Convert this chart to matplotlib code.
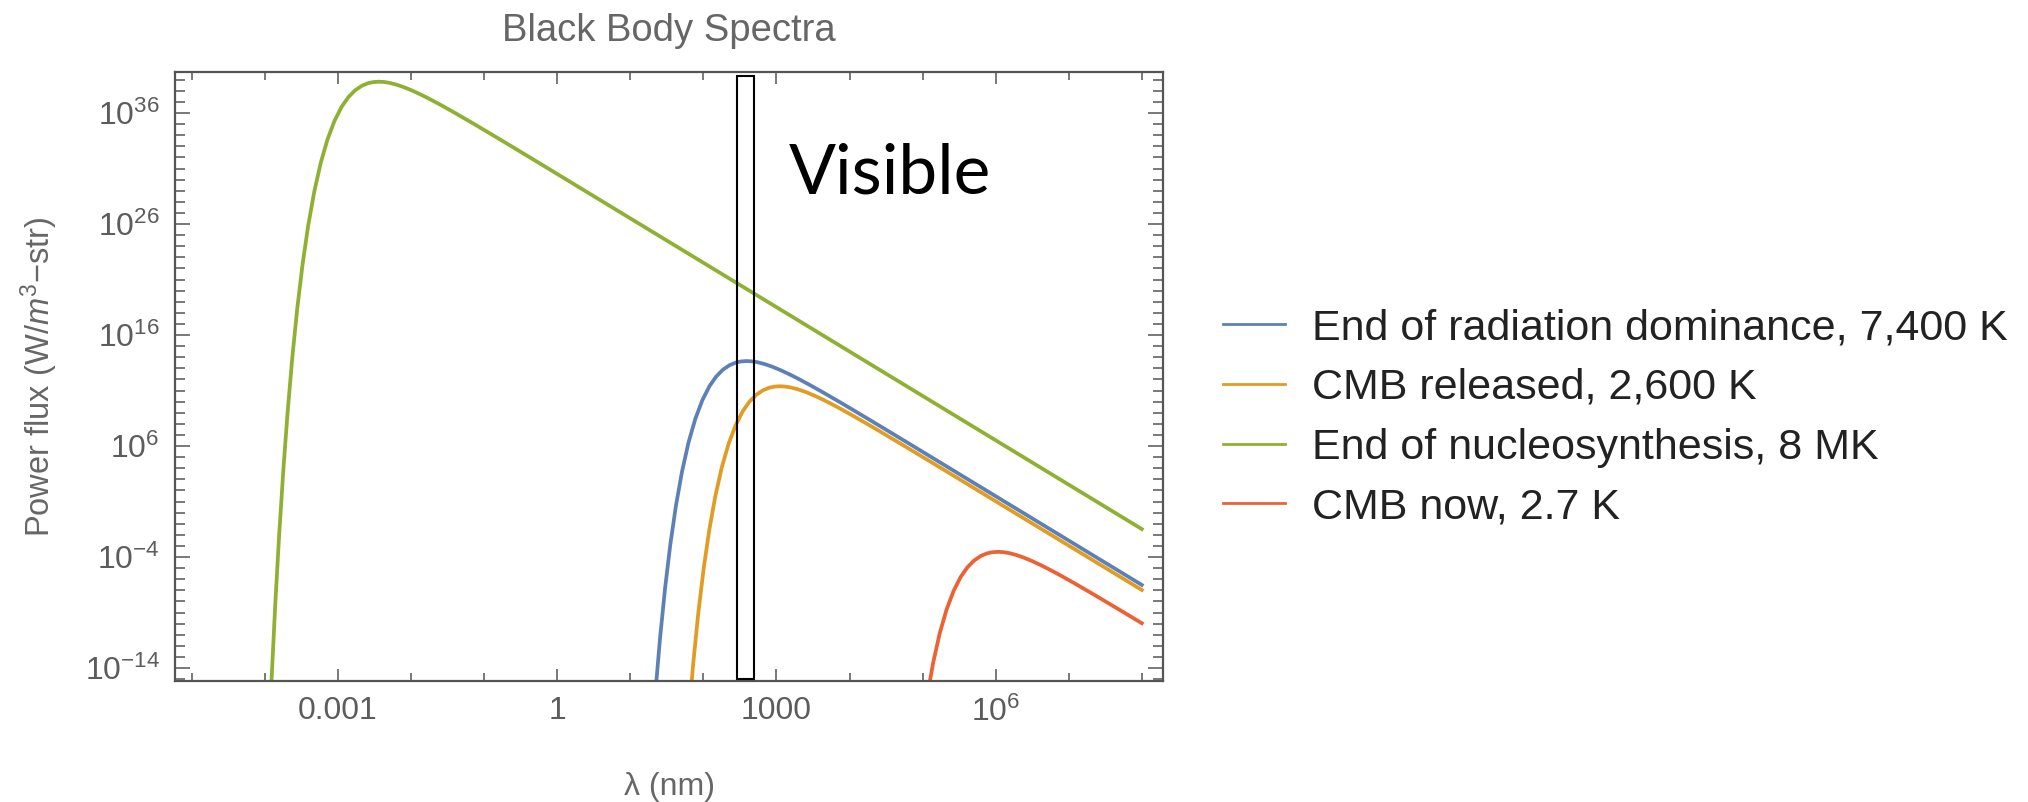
import numpy as np
import matplotlib
matplotlib.use('Agg')
import matplotlib.pyplot as plt
from matplotlib.patches import Rectangle
from matplotlib.ticker import NullFormatter, FixedLocator, FixedFormatter
import matplotlib.transforms as mtransforms

plt.rcParams['font.family'] = ['Liberation Sans', 'DejaVu Sans']
plt.rcParams['mathtext.fontset'] = 'custom'
plt.rcParams['mathtext.rm'] = 'Liberation Sans'
plt.rcParams['mathtext.it'] = 'Liberation Sans:italic'
plt.rcParams['mathtext.bf'] = 'Liberation Sans:bold'

# ---- data (log10 of wavelength in nm, log10 of power flux) ----
blue_log_lam = [1.2888, 1.3443, 1.4080, 1.4759, 1.5484, 1.6260, 1.7090, 1.7974, 1.8908, 1.9877,
                2.0847, 2.1749, 2.2676, 2.3594, 2.4437, 2.5106, 2.5898, 2.6655, 2.7447, 2.8416,
                2.9463, 3.0583, 3.1748, 3.2888, 3.4437, 3.6356, 3.8908, 4.2888, 4.8117, 8.0]
blue_log_flux = [-21.098, -16.165, -11.271, -6.833, -2.853, 0.668, 3.727, 6.325, 8.464, 10.150,
                 11.403, 12.255, 12.877, 13.287, 13.517, 13.617, 13.657, 13.630, 13.545, 13.378,
                 13.139, 12.832, 12.474, 12.096, 11.551, 10.842, 9.867, 8.309, 6.233, -6.514]

orange_log_lam = [1.7985, 1.8622, 1.9301, 2.0026, 2.0802, 2.1632, 2.2516, 2.3451, 2.4420, 2.5389,
                  2.6291, 2.7218, 2.8136, 2.8979, 2.9648, 3.0440, 3.1197, 3.1989, 3.2958, 3.4006,
                  3.5125, 3.6291, 3.7430, 3.8979, 4.0898, 4.3451, 4.7430, 5.2659, 8.0]
orange_log_flux = [-18.436, -13.542, -9.104, -5.124, -1.603, 1.456, 4.054, 6.193, 7.879, 9.132,
                   9.984, 10.606, 11.016, 11.246, 11.346, 11.386, 11.359, 11.274, 11.107, 10.868,
                   10.561, 10.203, 9.825, 9.280, 8.571, 7.596, 6.038, 3.962, -6.968]

green_log_lam = [-3.9212, -3.8590, -3.8058, -3.7451, -3.6896, -3.6259, -3.5580, -3.4855, -3.4079,
                 -3.3249, -3.2365, -3.1430, -3.0461, -2.9492, -2.8590, -2.7663, -2.6745, -2.5902,
                 -2.5233, -2.4441, -2.3684, -2.2892, -2.1923, -2.0875, -1.9756, -1.8590, -1.7451,
                 -1.5902, -1.3983, -1.1430, -0.7451, -0.2222, 8.0]
green_log_flux = [-16.764, -8.388, -2.140, 4.071, 9.004, 13.898, 18.336, 22.316, 25.837,
                  28.896, 31.494, 33.633, 35.319, 36.572, 37.424, 38.046, 38.456, 38.686,
                  38.786, 38.826, 38.799, 38.714, 38.547, 38.308, 38.001, 37.643, 37.265,
                  36.720, 36.011, 35.036, 33.478, 31.402, -1.480]

red_log_lam = [5.0638, 5.1468, 5.2352, 5.3287, 5.4256, 5.5225, 5.6127, 5.7054, 5.7972, 5.8815,
               5.9485, 6.0276, 6.1034, 6.1825, 6.2794, 6.3842, 6.4962, 6.6127, 6.7266, 6.8815,
               7.0734, 7.3287, 7.7266, 8.0]
red_log_flux = [-16.521, -13.462, -10.864, -8.725, -7.039, -5.786, -4.934, -4.312, -3.902, -3.672,
                -3.572, -3.532, -3.559, -3.644, -3.811, -4.050, -4.357, -4.715, -5.093, -5.638,
                -6.347, -7.322, -8.880, -9.963]

series_labels = ["End of radiation dominance, 7,400 K",
                 "CMB released, 2,600 K",
                 "End of nucleosynthesis, 8 MK",
                 "CMB now, 2.7 K"]
series_colors = ['#5E81B5', '#E19C24', '#8FB032', '#EB6235']

x_major_exp = [-3, 0, 3, 6]
x_major_labels = ['0.001', '1', '1000', r'$\mathregular{10^{6}}$']
y_major_exp = [-14, -4, 6, 16, 26, 36]
y_major_labels = [r'$\mathregular{10^{-14}}$', r'$\mathregular{10^{-4}}$', r'$\mathregular{10^{6}}$',
                  r'$\mathregular{10^{16}}$', r'$\mathregular{10^{26}}$', r'$\mathregular{10^{36}}$']

# ---- figure ----
W, H = 2028, 802
fig = plt.figure(figsize=(W / 100, H / 100), dpi=100)
ax = fig.add_axes([175 / W, 1 - 681 / H, 988 / W, 609 / H])

series = [(blue_log_lam, blue_log_flux), (orange_log_lam, orange_log_flux),
          (green_log_lam, green_log_flux), (red_log_lam, red_log_flux)]
handles = []
for (lam, flux), lab, col in zip(series, series_labels, series_colors):
    h, = ax.plot(10.0 ** np.array(lam), 10.0 ** np.array(flux), color=col, lw=2.7, label=lab,
                 solid_joinstyle='round')
    handles.append(h)

ax.set_xscale('log')
ax.set_yscale('log')
ax.set_xlim(10 ** -5.23, 10 ** 8.29)
ax.set_ylim(10 ** -15.17, 10 ** 39.7)

frame_col = '#555555'
label_col = '#5c5c5c'
for sp in ax.spines.values():
    sp.set_color(frame_col)
    sp.set_linewidth(1.6)

ax.xaxis.set_major_locator(FixedLocator([10.0 ** e for e in x_major_exp]))
ax.xaxis.set_major_formatter(FixedFormatter(x_major_labels))
ax.xaxis.set_minor_locator(FixedLocator([10.0 ** e for e in range(-5, 9) if e not in x_major_exp]))
ax.xaxis.set_minor_formatter(NullFormatter())
ax.yaxis.set_major_locator(FixedLocator([10.0 ** e for e in y_major_exp]))
ax.yaxis.set_major_formatter(FixedFormatter(y_major_labels))
ax.yaxis.set_minor_locator(FixedLocator([10.0 ** e for e in range(-15, 40) if e not in y_major_exp]))
ax.yaxis.set_minor_formatter(NullFormatter())

ax.tick_params(which='both', direction='in', top=True, right=True, color=frame_col,
               labelcolor=label_col, labelsize=23)
ax.tick_params(axis='x', which='major', length=8.5, width=1.1, pad=11)
ax.tick_params(axis='x', which='minor', length=6, width=1.1)
ax.tick_params(axis='y', which='major', length=11, width=1.1, pad=11)
ax.tick_params(axis='y', which='minor', length=7, width=1.1)

ax.set_title('Black Body Spectra', fontsize=27.5, color='#666666', pad=22)
ax.set_xlabel('λ (nm)', fontsize=23, color='#666666')
ax.xaxis.set_label_coords(0.5, -0.15)
ax.set_ylabel(r'Power flux (W/$\mathit{m}^{3}$$-$str)', fontsize=23.5, color='#666666')
ax.yaxis.set_label_coords(-0.116, 0.5)

# Visible band annotation box
trans = mtransforms.blended_transform_factory(ax.transData, ax.transAxes)
x0, x1 = 10 ** 2.462, 10 ** 2.695
ax.add_patch(Rectangle((x0, 0.0033), x1 - x0, 0.9901, transform=trans, fill=False,
                       edgecolor='black', lw=1.5, clip_on=False, zorder=5))
fig.text(789 / W, 1 - 194 / H, 'Visible', fontsize=50, family=['Lato', 'DejaVu Sans'],
         color='black', va='baseline', ha='left')

leg = fig.legend(handles=handles, labels=series_labels, loc='upper left',
                 bbox_to_anchor=(1223 / W, 1 - 308 / H), frameon=False, fontsize=31,
                 handlelength=1.44, handletextpad=0.63, labelspacing=0.46, borderpad=0,
                 borderaxespad=0, labelcolor='#222222')
for ln in leg.get_lines():
    ln.set_linewidth(2.0)

fig.savefig('out.png', dpi=100)
